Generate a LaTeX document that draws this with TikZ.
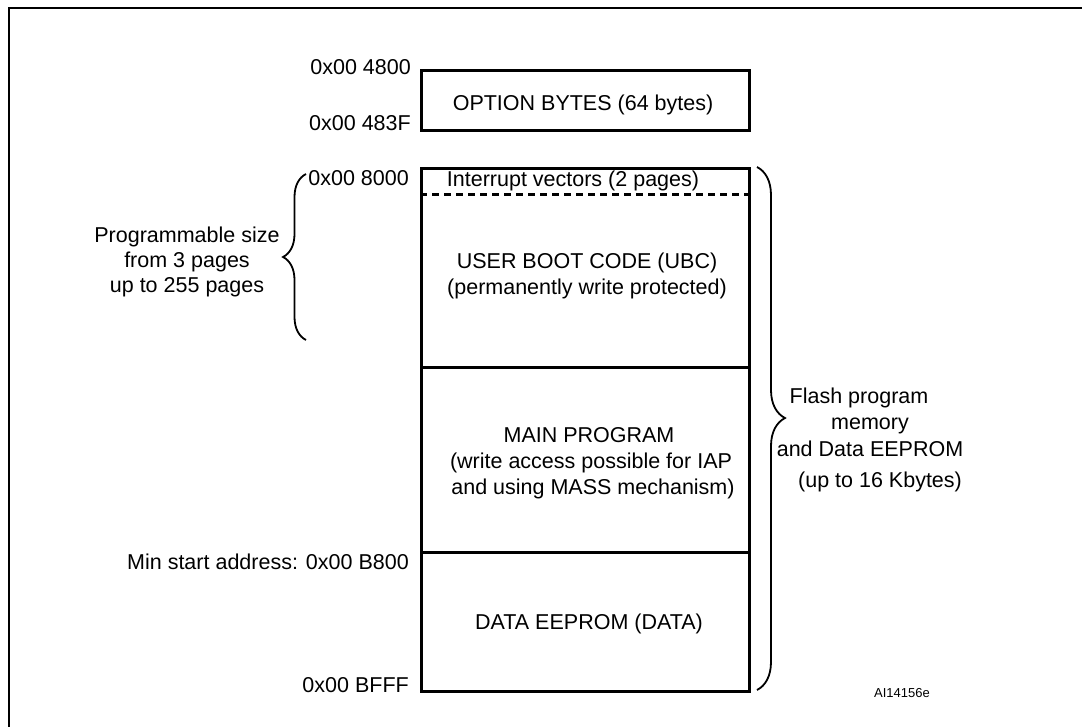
\documentclass[tikz,border=0pt]{standalone}
\usepackage{fontspec}
\setmainfont{Liberation Sans}
\usetikzlibrary{decorations.pathreplacing}
\begin{document}
\begin{tikzpicture}[x=1pt,y=-1pt,
  txt/.style={inner sep=0pt, font=\fontsize{21.5}{25.5}\selectfont},
  lbl/.style={txt, anchor=base east},
  mid/.style={txt, anchor=base},
  memblock/.style={draw, line width=3pt, inner sep=0pt, anchor=north west},
  divider/.style={line width=3pt},
  bracket/.style={line width=1.8pt, decorate},
  frame/.style={line width=2.5pt}
]
\useasboundingbox (0,0) rectangle (1082,727);
% outer frame (top and left visible)
\coordinate (fbl) at (9,727);
\coordinate (ftl) at (9,8);
\coordinate (ftr) at (1082,8);
\draw[frame] (fbl) -- (ftl) -- (ftr);

% option bytes block
\node[memblock, minimum width=328pt, minimum height=60pt] (ob) at (420,69) {};
\node[mid] (obt) at (583,111) {OPTION BYTES (64 bytes)};

% main memory block
\node[memblock, minimum width=328pt, minimum height=523pt] (mem) at (420,167) {};
\coordinate (dl) at (420,195);
\coordinate (dr) at (748,195);
\draw[line width=3pt, dash pattern=on 7pt off 5pt] (dl) -- (dr);
\coordinate (u1) at (420,368);
\coordinate (u2) at (748,368);
\draw[divider] (u1) -- (u2);
\coordinate (m1) at (420,552);
\coordinate (m2) at (748,552);
\draw[divider] (m1) -- (m2);

\node[mid] (iv) at (573,187) {Interrupt vectors (2 pages)};
\node[mid] (ubc1) at (587,269) {USER BOOT CODE (UBC)};
\node[mid] (ubc2) at (587,295) {(permanently write protected)};
\node[mid] (mp1) at (589,442) {MAIN PROGRAM};
\node[mid] (mp2) at (591,468) {(write access possible for IAP};
\node[mid] (mp3) at (593,494) {and using MASS mechanism)};
\node[mid] (de) at (589,629) {DATA EEPROM (DATA)};

% addresses
\node[lbl] (a1) at (411,75) {0x00 4800};
\node[lbl] (a2) at (411,131) {0x00 483F};
\node[lbl] (a3) at (409,186) {0x00 8000};
\node[lbl] (a4) at (409,569) {Min start address: 0x00 B800};
\node[lbl] (a5) at (409,692) {0x00 BFFF};

% left brace
\coordinate (lb1) at (306,340);
\coordinate (lb2) at (306,174);
\draw[bracket, decoration={brace, amplitude=23pt}] (lb1) -- (lb2);
\node[mid] (p1) at (187,243) {Programmable size};
\node[mid] (p2) at (187,268) {from 3 pages};
\node[mid] (p3) at (187,293) {up to 255 pages};

% right brace
\coordinate (rb1) at (757,167);
\coordinate (rb2) at (757,690);
\draw[bracket, decoration={brace, amplitude=28pt, aspect=0.48}] (rb1) -- (rb2);
\node[mid] (f1) at (859,403) {Flash program};
\node[mid] (f2) at (870,429) {memory};
\node[mid] (f3) at (870,456) {and Data EEPROM};
\node[mid] (f4) at (880,487) {(up to 16 Kbytes)};

\node[inner sep=0pt, anchor=base, font=\fontsize{13}{15}\selectfont] (id) at (902,697) {AI14156e};
\end{tikzpicture}
\end{document}
